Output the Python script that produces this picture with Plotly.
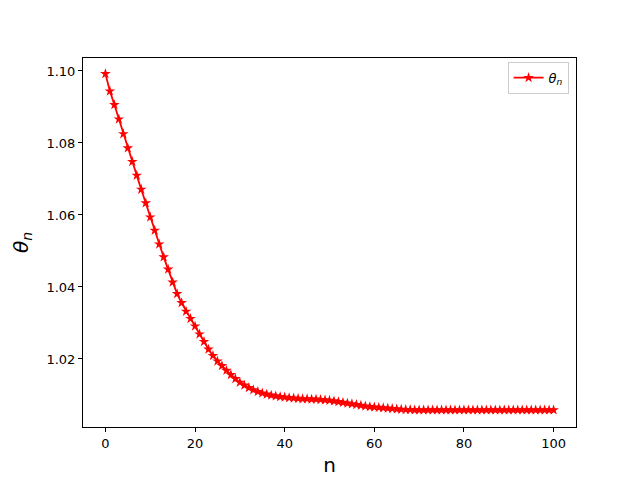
import plotly.graph_objects as go

# iteration index and theta_n values
n_vals = list(range(101))
theta_vals = [
    1.0992, 1.0944, 1.0906, 1.0866, 1.0825, 1.0786, 1.0748, 1.0710, 1.0671, 1.0633,
    1.0594, 1.0557, 1.0519, 1.0483, 1.0449, 1.0413, 1.0381, 1.0356, 1.0332, 1.0312,
    1.0291, 1.0269, 1.0248, 1.0227, 1.0209, 1.0194, 1.0181, 1.0168, 1.0156, 1.0145,
    1.0135, 1.0127, 1.0120, 1.0114, 1.0109, 1.0105, 1.0102, 1.0099, 1.0097, 1.0095,
    1.0094, 1.0092, 1.0091, 1.0090, 1.0089, 1.0089, 1.0088, 1.0088, 1.0087, 1.0086,
    1.0085, 1.0083, 1.0081, 1.0079, 1.0077, 1.0075, 1.0073, 1.0071, 1.0069, 1.0067,
    1.0066, 1.0065, 1.0064, 1.0063, 1.0062, 1.0061, 1.0060, 1.0059, 1.0059, 1.0058,
    1.0058, 1.0058, 1.0058, 1.0058, 1.0058, 1.0058, 1.0058, 1.0058, 1.0058, 1.0058,
    1.0058, 1.0058, 1.0058, 1.0058, 1.0058, 1.0058, 1.0058, 1.0058, 1.0058, 1.0058,
    1.0058, 1.0058, 1.0058, 1.0058, 1.0058, 1.0058, 1.0058, 1.0058, 1.0058, 1.0058,
    1.0058,
]
x_ticks = [0, 20, 40, 60, 80, 100]
y_ticks = [1.02, 1.04, 1.06, 1.08, 1.10]

FONT = "DejaVu Sans"

fig = go.Figure()
fig.add_trace(go.Scatter(
    x=n_vals, y=theta_vals, mode="lines+markers",
    name="<i>θ<sub>n</sub></i>",
    line=dict(color="red", width=1.8),
    marker=dict(symbol="star", size=8, color="red"),
))

axis_common = dict(
    showgrid=False, zeroline=False, showline=True, linecolor="black", linewidth=1,
    mirror=True, ticks="outside", ticklen=4, tickcolor="black",
    tickfont=dict(family=FONT, size=13, color="black"),
)

# page body adds an 8px offset, margins compensate for it
fig.update_layout(
    width=640, height=480,
    paper_bgcolor="white", plot_bgcolor="white",
    margin=dict(l=72, r=72, t=50, b=61),
    font=dict(family=FONT, color="black"),
    xaxis=dict(range=[-5, 105], tickvals=x_ticks,
               title=dict(text="n", font=dict(size=20), standoff=8), **axis_common),
    yaxis=dict(range=[1.0011, 1.1036], tickvals=y_ticks, tickformat=".2f",
               title=dict(text="<i>θ<sub>n</sub></i>", font=dict(size=20), standoff=12),
               **axis_common),
    showlegend=True,
    legend=dict(x=0.985, y=0.99, xanchor="right", yanchor="top",
                bgcolor="white", bordercolor="#cccccc", borderwidth=1,
                font=dict(family=FONT, size=13)),
)

fig.write_html("out.html")
